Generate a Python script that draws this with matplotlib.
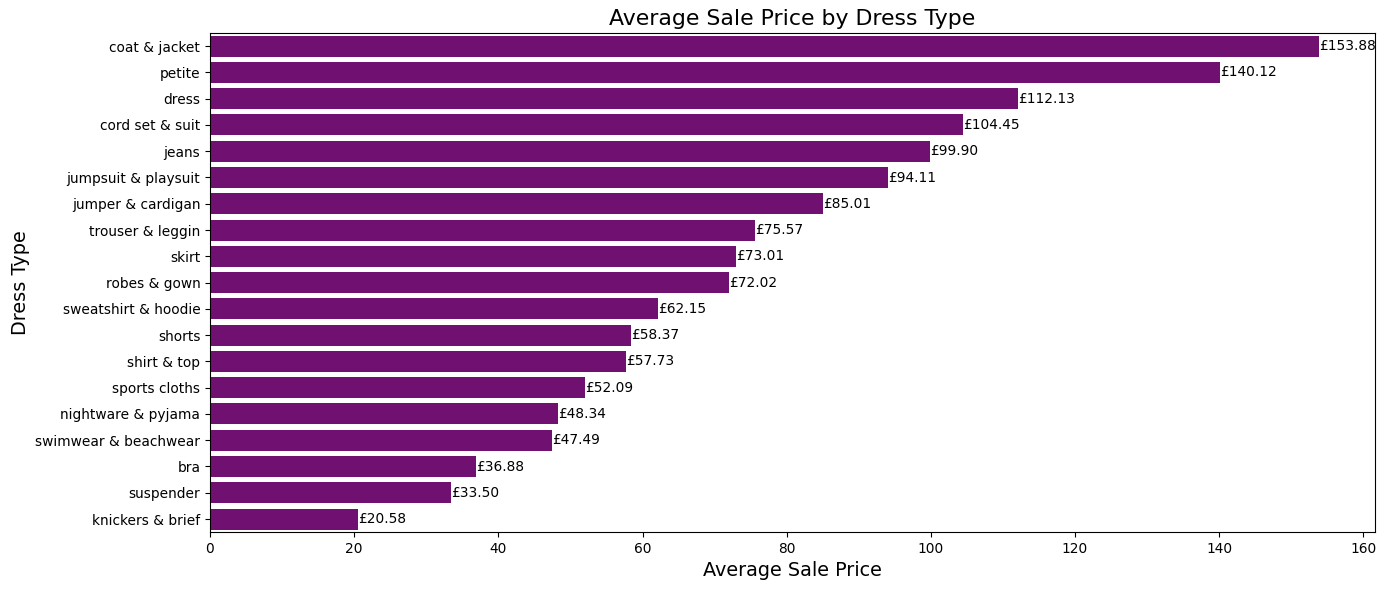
import matplotlib
matplotlib.use("Agg")
import matplotlib.pyplot as plt

# Average sale price per dress type
dress_types = [
    "coat & jacket", "petite", "dress", "cord set & suit", "jeans",
    "jumpsuit & playsuit", "jumper & cardigan", "trouser & leggin", "skirt",
    "robes & gown", "sweatshirt & hoodie", "shorts", "shirt & top",
    "sports cloths", "nightware & pyjama", "swimwear & beachwear", "bra",
    "suspender", "knickers & brief",
]
avg_prices = [
    153.88, 140.12, 112.13, 104.45, 99.90, 94.11, 85.01, 75.57, 73.01,
    72.02, 62.15, 58.37, 57.73, 52.09, 48.34, 47.49, 36.88, 33.50, 20.58,
]

fig, ax = plt.subplots(figsize=(14, 5.96), dpi=99)

positions = range(len(dress_types))
bars = ax.barh(positions, avg_prices, height=0.8, color="#701070")

# price labels at the end of each bar
for bar, price in zip(bars, avg_prices):
    ax.text(bar.get_width(), bar.get_y() + bar.get_height() / 2,
            f"£{price:.2f}", va="center", ha="left", fontsize=10)

ax.set_yticks(list(positions))
ax.set_yticklabels(dress_types)
ax.set_ylim(len(dress_types) - 0.5, -0.5)
ax.set_xlim(0, 161.6)

ax.set_title("Average Sale Price by Dress Type", fontsize=16)
ax.set_xlabel("Average Sale Price", fontsize=14)
ax.set_ylabel("Dress Type", fontsize=14)

plt.tight_layout()
fig.subplots_adjust(left=0.1515, right=0.992, top=0.944, bottom=0.098)
plt.savefig("out.png")
